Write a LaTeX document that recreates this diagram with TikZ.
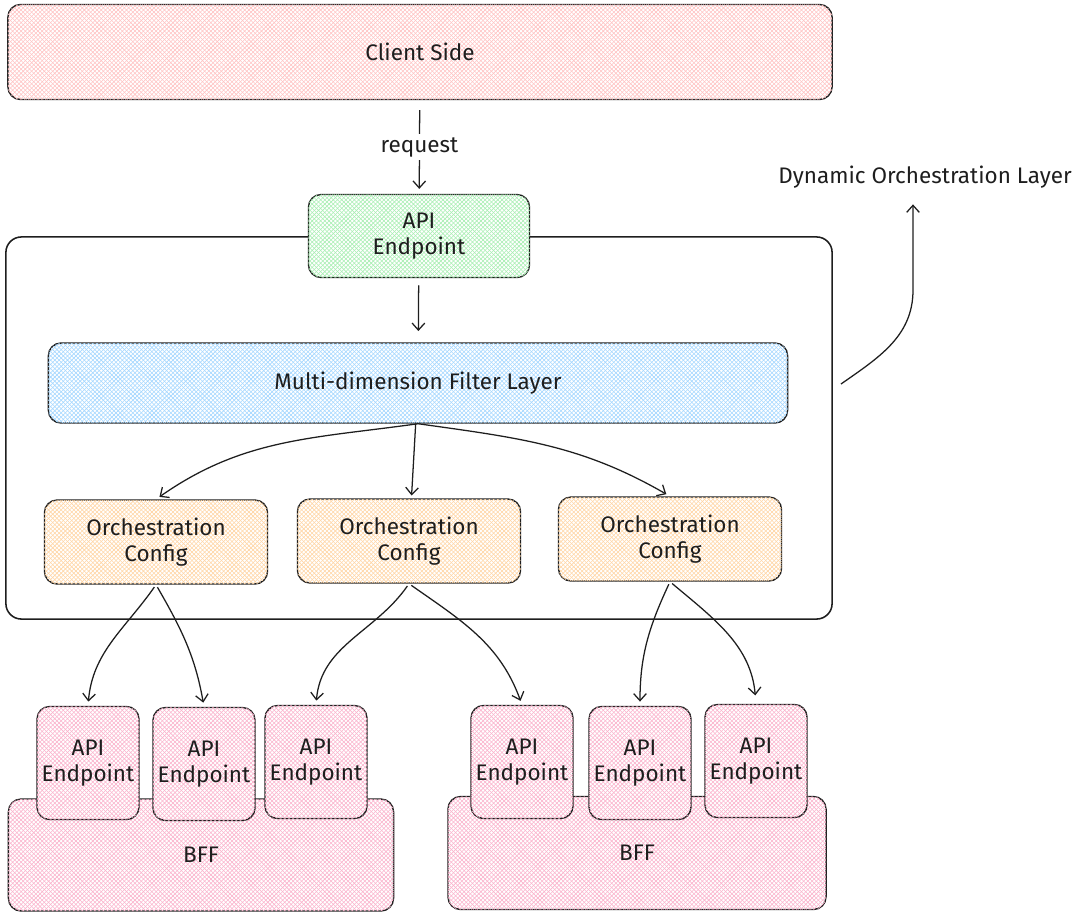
\documentclass[tikz,border=0pt]{standalone}
\usepackage{fontspec}
\setmainfont{Fira Sans}
\usetikzlibrary{arrows.meta,patterns}
\definecolor{inkline}{HTML}{1E1E1E}
\definecolor{redhatch}{HTML}{FFC4C4}
\definecolor{greenhatch}{HTML}{A9EFB3}
\definecolor{bluehatch}{HTML}{A5D8FF}
\definecolor{orangehatch}{HTML}{FFD6A5}
\definecolor{pinkhatch}{HTML}{FBB4CD}

\begin{document}
\begin{tikzpicture}[x=0.025cm,y=-0.025cm]
\tikzstyle{every node}+=[font=\fontsize{16}{19}\selectfont, text=inkline, align=center]
\tikzstyle{hatched}=[draw=inkline, line width=1pt, fill=white, rounded corners=9pt, postaction={pattern=north east lines, pattern color=#1}, postaction={pattern=north west lines, pattern color=#1}]
\tikzstyle{arr}=[-{Straight Barb[length=5pt,width=9pt]}, line width=0.9pt, draw=inkline]
\useasboundingbox (0,0) rectangle (1080,917);
\node [hatched=redhatch, minimum width=20.6cm, minimum height=2.375cm] (client) at (420,52) {Client Side};
\node [draw=inkline, line width=1.1pt, rounded corners=11pt, minimum width=20.65cm, minimum height=9.55cm] (outer) at (419,428) {};
\node [hatched=greenhatch, minimum width=5.525cm, minimum height=2.075cm] (api) at (419,236) {API\\Endpoint};
\node [hatched=bluehatch, minimum width=18.475cm, minimum height=2cm] (filter) at (418,383) {Multi-dimension Filter Layer};
\node [hatched=orangehatch, minimum width=5.575cm, minimum height=2.1cm] (cfga) at (156,542) {Orchestration\\Config};
\node [hatched=orangehatch, minimum width=5.575cm, minimum height=2.1cm] (cfgb) at (409,541) {Orchestration\\Config};
\node [hatched=orangehatch, minimum width=5.575cm, minimum height=2.1cm] (cfgc) at (670,539) {Orchestration\\Config};
\node [hatched=pinkhatch, minimum width=9.625cm, minimum height=2.8cm, text depth=-1.1cm] (bffa) at (201,855) {BFF};
\node [hatched=pinkhatch, minimum width=9.45cm, minimum height=2.825cm, text depth=-1.1cm] (bffb) at (637,853) {BFF};
\node [hatched=pinkhatch, minimum width=2.55cm, minimum height=2.825cm] (epa) at (88,763) {API\\Endpoint};
\node [hatched=pinkhatch, minimum width=2.55cm, minimum height=2.825cm] (epb) at (204,764) {API\\Endpoint};
\node [hatched=pinkhatch, minimum width=2.55cm, minimum height=2.825cm] (epc) at (316,762) {API\\Endpoint};
\node [hatched=pinkhatch, minimum width=2.55cm, minimum height=2.825cm] (epd) at (522,762) {API\\Endpoint};
\node [hatched=pinkhatch, minimum width=2.55cm, minimum height=2.825cm] (epe) at (640,763) {API\\Endpoint};
\node [hatched=pinkhatch, minimum width=2.55cm, minimum height=2.825cm] (epf) at (756,761) {API\\Endpoint};
\node (dyn) at (925,177) {Dynamic Orchestration Layer};
\coordinate (dstart) at (841,384);
\coordinate (dbend) at (913,290);
\draw [arr, shorten <=7pt, shorten >=3.5pt] (client) -- node [fill=white, inner sep=2pt] {request} (api);
\draw [arr, shorten <=5pt, shorten >=8pt] (api) -- (filter);
\draw [arr, shorten >=3pt] (filter.south) to [out=188, in=35] (cfga.north);
\draw [arr, shorten >=2pt] (filter) -- (cfgb);
\draw [arr, shorten >=3pt] (filter.south) to [out=-8, in=150] (cfgc.north);
\draw [arr, shorten <=2pt, shorten >=3pt] (cfga.south) to [out=-125, in=85] (epa.north);
\draw [arr, shorten <=2pt, shorten >=3pt] (cfga.south) to [out=-60, in=100] (epb.north);
\draw [arr, shorten <=2pt, shorten >=3pt] (cfgb.south) to [out=-125, in=85] (epc.north);
\draw [arr, shorten <=2pt, shorten >=3pt] (cfgb.south) to [out=-35, in=110] (epd.north);
\draw [arr, shorten <=2pt, shorten >=3pt] (cfgc.south) to [out=-115, in=90] (epe.north);
\draw [arr, shorten <=2pt, shorten >=6pt] (cfgc.south) to [out=-40, in=95] (epf.north);
\draw [arr, shorten >=8pt] (dstart) to [out=35, in=-90] (dbend) -- (dbend |- dyn.south);
\end{tikzpicture}
\end{document}
